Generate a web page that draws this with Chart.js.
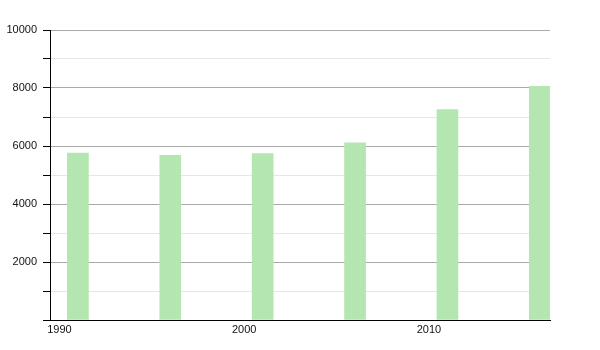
<!DOCTYPE html>
<html>
<head>
<meta charset="utf-8">
<script src="https://cdn.jsdelivr.net/npm/chart.js@4/dist/chart.umd.min.js"></script>
<style>
  html, body { margin: 0; padding: 0; background: #fff; }
  #wrap { width: 600px; height: 350px; }
</style>
</head>
<body>
<div id="wrap"><canvas id="c" width="600" height="350"></canvas></div>
<script>
const years = [1991, 1996, 2001, 2006, 2011, 2016];
const population = [5760, 5680, 5740, 6110, 7260, 8060];
const xTickYears = [1990, 2000, 2010];
const yLabelValues = [2000, 4000, 6000, 8000, 10000];

const points = years.map((y, i) => ({ x: y, y: population[i] }));

new Chart(document.getElementById('c'), {
  type: 'bar',
  data: {
    datasets: [{
      data: points,
      backgroundColor: '#b3e6b0',
      borderWidth: 0,
      barThickness: 21
    }]
  },
  options: {
    responsive: false,
    animation: false,
    layout: { padding: { top: 30, right: 50, left: 0, bottom: 0 } },
    plugins: { legend: { display: false }, tooltip: { enabled: false } },
    scales: {
      x: {
        type: 'linear',
        offset: false,
        min: 1989.49,
        max: 2016.55,
        afterBuildTicks: s => { s.ticks = xTickYears.map(v => ({ value: v })); },
        afterFit: s => { s.height = 30; },
        grid: { display: false, drawTicks: false, offset: false },
        border: { display: true, color: '#000', width: 1 },
        ticks: {
          padding: 3,
          color: '#111',
          font: { family: 'Liberation Sans', size: 11 },
          callback: v => String(v)
        }
      },
      y: {
        min: 0,
        max: 10000,
        afterBuildTicks: s => {
          const t = [];
          for (let v = 0; v <= 10000; v += 1000) t.push({ value: v });
          s.ticks = t;
        },
        afterFit: s => { s.width = 50; },
        grid: {
          color: ctx => (ctx.tick && ctx.tick.value % 2000 === 0) ? '#aaaaaa' : '#e6e6e6',
          tickColor: '#000',
          tickLength: 7,
          drawTicks: true
        },
        border: { display: true, color: '#000', width: 1 },
        ticks: {
          padding: 6,
          color: '#111',
          font: { family: 'Liberation Sans', size: 11 },
          callback: v => yLabelValues.includes(v) ? String(v) : ''
        }
      }
    }
  }
});
</script>
</body>
</html>
